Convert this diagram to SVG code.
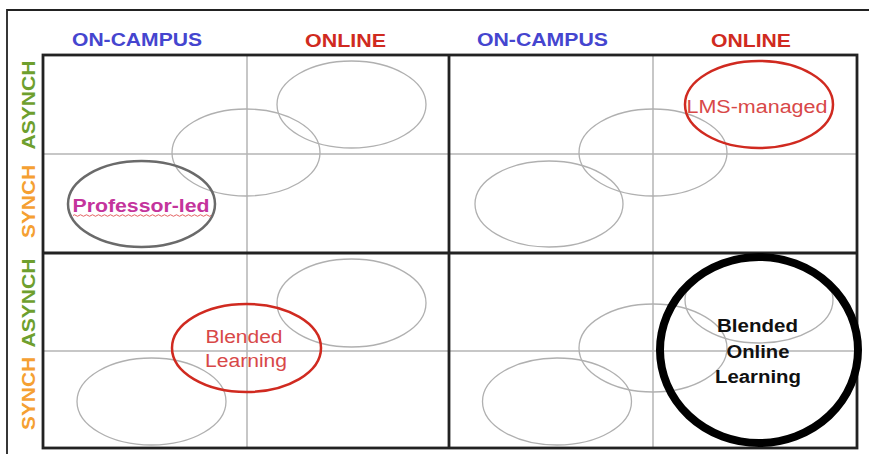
<svg xmlns="http://www.w3.org/2000/svg" width="869" height="454" viewBox="0 0 869 454">
<style>
.hdr{font-family:"Liberation Sans",Arial,sans-serif;font-weight:bold;font-size:18px;text-anchor:middle}
.blue{fill:#4545cf}
.red{fill:#d02a20}
.side{font-family:"Liberation Sans",Arial,sans-serif;font-weight:bold;font-size:19px;text-anchor:middle}
.green{fill:#6e9f2e}
.orange{fill:#f5a032}
.thin{stroke:#b4b4b4;stroke-width:1.5;fill:none}
.ell{stroke:#b0b0b0;stroke-width:1.3;fill:none}
.lbl{font-family:"Liberation Sans",Arial,sans-serif;font-size:18px;text-anchor:middle}
</style>
<rect width="869" height="454" fill="#ffffff"/>
<path d="M7,454 V10 H869" fill="none" stroke="#222" stroke-width="1.8"/>
<g id="headers">
<text class="hdr blue" x="137" y="46" textLength="130" lengthAdjust="spacingAndGlyphs">ON-CAMPUS</text>
<text class="hdr red" x="345.5" y="47" textLength="81" lengthAdjust="spacingAndGlyphs">ONLINE</text>
<text class="hdr blue" x="542.5" y="46" textLength="131" lengthAdjust="spacingAndGlyphs">ON-CAMPUS</text>
<text class="hdr red" x="751" y="47" textLength="80" lengthAdjust="spacingAndGlyphs">ONLINE</text>
</g>
<g id="side-labels">
<text class="side green" transform="translate(35,105) rotate(-90)" textLength="89" lengthAdjust="spacingAndGlyphs">ASYNCH</text>
<text class="side orange" transform="translate(35,201.5) rotate(-90)" textLength="73" lengthAdjust="spacingAndGlyphs">SYNCH</text>
<text class="side green" transform="translate(35,303) rotate(-90)" textLength="89" lengthAdjust="spacingAndGlyphs">ASYNCH</text>
<text class="side orange" transform="translate(35,393.5) rotate(-90)" textLength="73" lengthAdjust="spacingAndGlyphs">SYNCH</text>
</g>
<g id="grid">
<line class="thin" x1="247" y1="55" x2="247" y2="448"/>
<line class="thin" x1="653" y1="55" x2="653" y2="448"/>
<line class="thin" x1="43" y1="154" x2="857" y2="154"/>
<line class="thin" x1="43" y1="351" x2="857" y2="351"/>
<rect x="43" y="55" width="814" height="393" fill="none" stroke="#222" stroke-width="2.8"/>
<line x1="449" y1="55" x2="449" y2="448" stroke="#222" stroke-width="2.8"/>
<line x1="43" y1="253" x2="857" y2="253" stroke="#222" stroke-width="2.8"/>
</g>
<g id="q1-ellipses">
<ellipse class="ell" cx="351.5" cy="104.5" rx="74.5" ry="43.5"/>
<ellipse class="ell" cx="246" cy="152.5" rx="74" ry="43.5"/>
</g>
<g id="professor-led">
<ellipse cx="141.5" cy="204" rx="73.5" ry="43" fill="none" stroke="#6a6a6a" stroke-width="2.5"/>
<text class="lbl" x="141" y="212" font-weight="bold" fill="#c4349c" textLength="137" lengthAdjust="spacingAndGlyphs">Professor-led</text>
<path d="M73,215.5 q1.5,-1.5 3,0 t3,0 t3,0 t3,0 t3,0 t3,0 t3,0 t3,0 t3,0 t3,0 t3,0 t3,0 t3,0 t3,0 t3,0 t3,0 t3,0 t3,0 t3,0 t3,0 t3,0 t3,0 t3,0 t3,0 t3,0 t3,0 t3,0 t3,0 t3,0 t3,0 t3,0 t3,0 t3,0 t3,0 t3,0 t3,0 t3,0 t3,0 t3,0 t3,0 t3,0 t3,0 t3,0 t3,0 t3,0 t3,0" fill="none" stroke="#e05050" stroke-width="0.9"/>
</g>
<g id="q2-ellipses">
<ellipse class="ell" cx="653" cy="152.5" rx="74" ry="43.5"/>
<ellipse class="ell" cx="549" cy="204" rx="74" ry="43"/>
</g>
<g id="lms-managed">
<ellipse cx="759" cy="104.5" rx="74" ry="43.5" fill="none" stroke="#d02a20" stroke-width="2.5"/>
<text class="lbl" x="757" y="113" fill="#d84848" textLength="141" lengthAdjust="spacingAndGlyphs">LMS-managed</text>
</g>
<g id="q3-ellipses">
<ellipse class="ell" cx="351.5" cy="303" rx="74.5" ry="44"/>
<ellipse class="ell" cx="151.5" cy="401.5" rx="74.5" ry="43.5"/>
</g>
<g id="blended-learning">
<ellipse cx="246.5" cy="348" rx="74.5" ry="44" fill="none" stroke="#d02a20" stroke-width="2.5"/>
<text class="lbl" x="244" y="343" fill="#d84848" textLength="77" lengthAdjust="spacingAndGlyphs">Blended</text>
<text class="lbl" x="246" y="367" fill="#d84848" textLength="82" lengthAdjust="spacingAndGlyphs">Learning</text>
</g>
<g id="q4-ellipses">
<ellipse class="ell" cx="759" cy="300" rx="74" ry="43"/>
<ellipse class="ell" cx="653" cy="348" rx="74" ry="44"/>
<ellipse class="ell" cx="557" cy="401.5" rx="74.5" ry="43.5"/>
</g>
<g id="blended-online-learning">
<ellipse cx="759" cy="350" rx="99" ry="93" fill="none" stroke="#000" stroke-width="8"/>
<text class="lbl" font-weight="bold" fill="#111" x="757.5" y="332" textLength="81" lengthAdjust="spacingAndGlyphs">Blended</text>
<text class="lbl" font-weight="bold" fill="#111" x="758" y="358" textLength="63" lengthAdjust="spacingAndGlyphs">Online</text>
<text class="lbl" font-weight="bold" fill="#111" x="758" y="383" textLength="86" lengthAdjust="spacingAndGlyphs">Learning</text>
</g>
</svg>
